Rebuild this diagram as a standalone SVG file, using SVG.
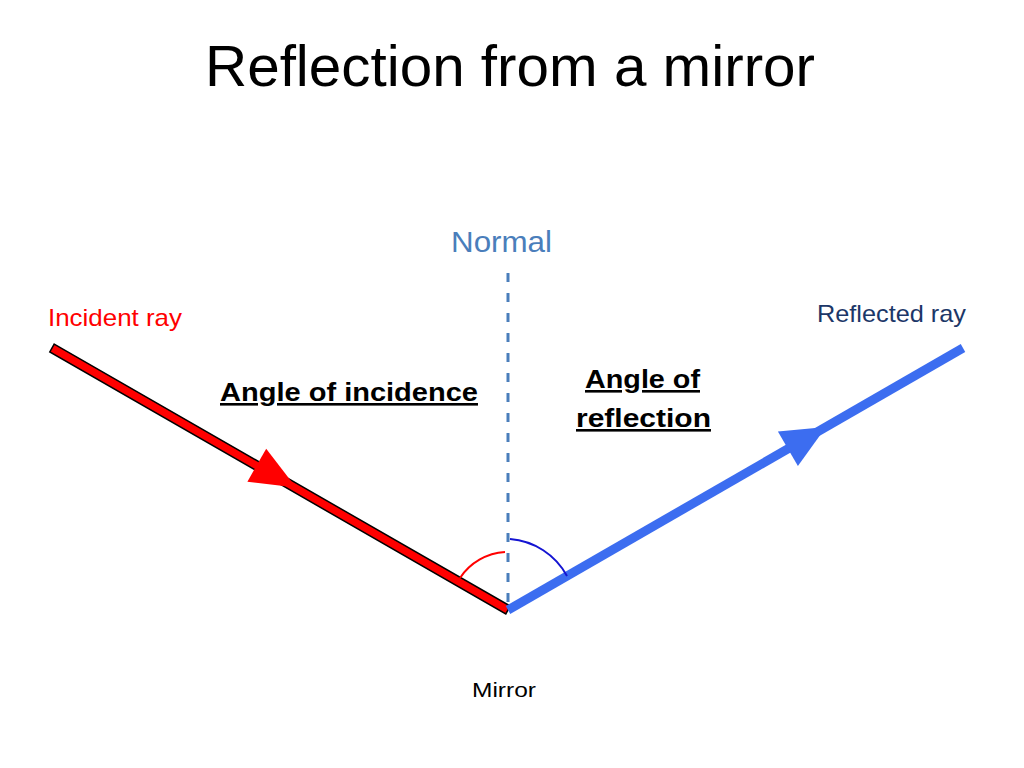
<svg xmlns="http://www.w3.org/2000/svg" width="1024" height="768" viewBox="0 0 1024 768">
<style>
text{font-family:"Liberation Sans",Arial,sans-serif}
.title{font-size:57px;fill:#000}
.lbl{font-size:24px}
.big{font-size:26px;font-weight:bold;fill:#000;text-decoration:underline}
</style>
<rect width="1024" height="768" fill="#fff"/>
<text class="title" x="205" y="86" textLength="610" lengthAdjust="spacingAndGlyphs">Reflection from a mirror</text>
<g id="connectors">
<line id="normal" x1="508" y1="273" x2="508" y2="610" stroke="#4a7ebb" stroke-width="3" stroke-dasharray="9 11"/>
<polygon id="incident" points="54.2,344.1 510.2,606.1 505.8,613.9 49.8,351.9" fill="#ff0000" stroke="#000" stroke-width="1.5" stroke-linejoin="miter"/>
<polygon id="incident-head" points="296,487.6 247.4,481.7 266.2,448.7" fill="#ff0000"/>
<line id="reflected" x1="508" y1="610" x2="963" y2="348" stroke="#3c6df0" stroke-width="9"/>
<polygon id="reflected-head" points="826,426.9 797.9,466.1 777.9,431.5" fill="#3c6df0"/>
<path id="arc-i" d="M460,578 A58,58 0 0 1 505,552" fill="none" stroke="#ff0000" stroke-width="2"/>
<path id="arc-r" d="M510,539 A71,71 0 0 1 567,576" fill="none" stroke="#1414d2" stroke-width="2"/>
</g>
<g id="n-normal"><text x="451" y="252" fill="#4a7ebb" textLength="101" lengthAdjust="spacingAndGlyphs" style="font-size:29px">Normal</text></g>
<g id="n-incident"><text class="lbl" x="48" y="326" fill="#ff0000" textLength="134" lengthAdjust="spacingAndGlyphs">Incident ray</text></g>
<g id="n-reflected"><text class="lbl" x="817" y="322" fill="#1c3768" textLength="149" lengthAdjust="spacingAndGlyphs">Reflected ray</text></g>
<g id="n-aoi"><text class="big" x="220" y="401" textLength="258" lengthAdjust="spacingAndGlyphs">Angle of incidence</text></g>
<g id="n-aor"><text class="big" x="585" y="388" textLength="115" lengthAdjust="spacingAndGlyphs">Angle of</text><text class="big" x="576" y="427" textLength="135" lengthAdjust="spacingAndGlyphs">reflection</text></g>
<g id="n-mirror"><text x="472" y="697" fill="#000" textLength="64" lengthAdjust="spacingAndGlyphs" style="font-size:20px">Mirror</text></g>
</svg>
